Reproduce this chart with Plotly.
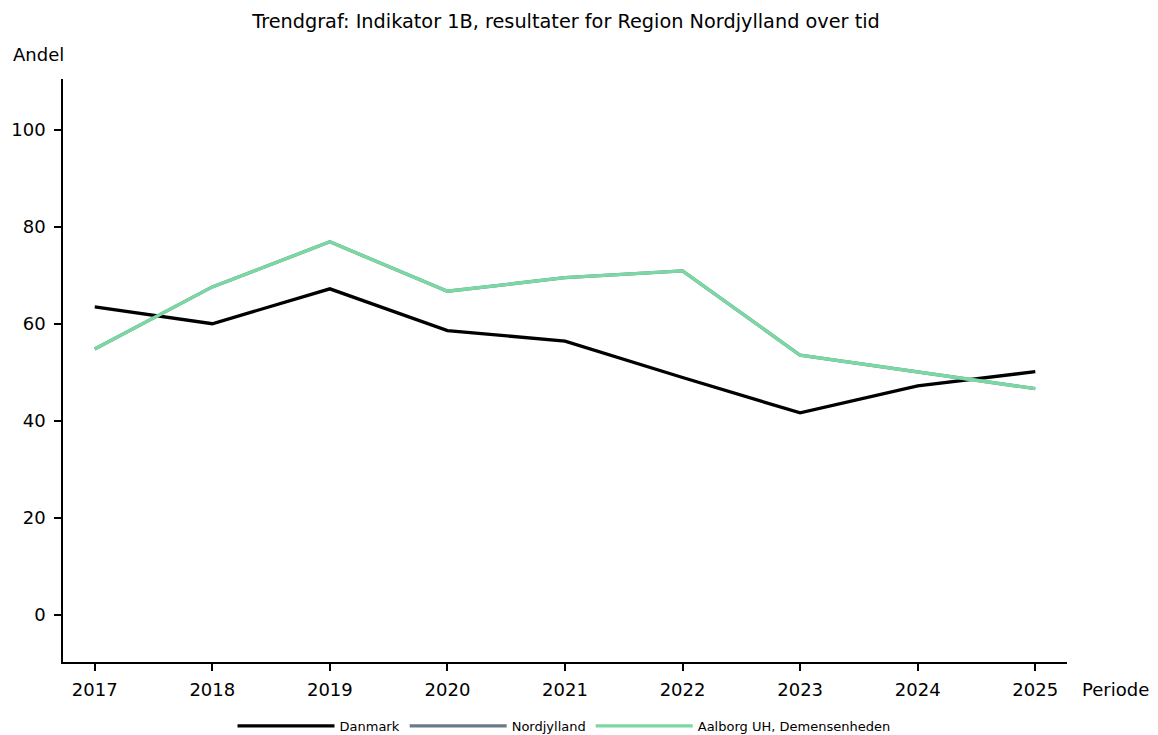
import plotly.graph_objects as go

years = [2017, 2018, 2019, 2020, 2021, 2022, 2023, 2024, 2025]
danmark = [63.5, 60.0, 67.2, 58.6, 56.4, 48.9, 41.6, 47.2, 50.1]
nordjylland = [54.8, 67.6, 76.9, 66.7, 69.5, 70.9, 53.5, 50.1, 46.6]
aalborg = [54.8, 67.6, 76.9, 66.7, 69.5, 70.9, 53.5, 50.1, 46.6]
ytick_vals = [0, 20, 40, 60, 80, 100]

series_names = ["Danmark", "Nordjylland", "Aalborg UH, Demensenheden"]
colors = ["#000000", "#6b7a8b", "#7ad8a2"]

fig = go.Figure()
for name, vals, col in zip(series_names, [danmark, nordjylland, aalborg], colors):
    fig.add_trace(go.Scatter(x=years, y=vals, mode="lines", name=name,
                             line=dict(color=col, width=3.3)))

font_main = "DejaVu Sans"
W, H = 1150, 727
OFF = 8  # page body margin
L, T = 63 - OFF, 79 - OFF
PR, PB = 1067 - OFF, 662 - OFF
R, B = W - PR, H - PB
pw = PR - L
ph = PB - T

def px_x(x):
    return (x - OFF - L) / pw

def px_y(y):
    return (PB - (y - OFF)) / ph

fig.update_layout(
    width=W, height=H,
    paper_bgcolor="white", plot_bgcolor="white",
    margin=dict(l=L, r=R, t=T, b=B, autoexpand=False),
    title=dict(text="Trendgraf: Indikator 1B, resultater for Region Nordjylland over tid",
               x=(566 - OFF)/W, xanchor="center", y=1 - (21 - OFF)/H, yanchor="middle",
               font=dict(family=font_main, size=19.3, color="black")),
    font=dict(family=font_main, size=18, color="black"),
    showlegend=True,
    legend=dict(orientation="h", x=px_x(564), xanchor="center",
                y=px_y(726), yanchor="middle",
                font=dict(family=font_main, size=13, color="black"),
                itemwidth=97, traceorder="normal", bgcolor="rgba(0,0,0,0)"),
    xaxis=dict(range=[2016.73, 2025.27], tickvals=years, ticktext=[str(y) for y in years],
               showgrid=False, zeroline=False, showline=True, linecolor="black", linewidth=1.5,
               ticks="outside", ticklen=7, tickwidth=1.5, tickcolor="black",
               tickfont=dict(size=18), automargin=False, ticklabelstandoff=4),
    yaxis=dict(range=[-9.8, 110.5], tickvals=ytick_vals,
               showgrid=False, zeroline=False, showline=True, linecolor="black", linewidth=1.5,
               ticks="outside", ticklen=7, tickwidth=1.5, tickcolor="black",
               tickfont=dict(size=18), automargin=False, ticklabelstandoff=5),
    annotations=[
        dict(text="Andel", xref="paper", yref="paper", x=px_x(11), y=px_y(55),
             xanchor="left", yanchor="middle", showarrow=False,
             font=dict(family=font_main, size=18)),
        dict(text="Periode", xref="paper", yref="paper", x=px_x(1080), y=px_y(689),
             xanchor="left", yanchor="middle", showarrow=False,
             font=dict(family=font_main, size=18)),
    ],
)

fig.write_html("out.html")
